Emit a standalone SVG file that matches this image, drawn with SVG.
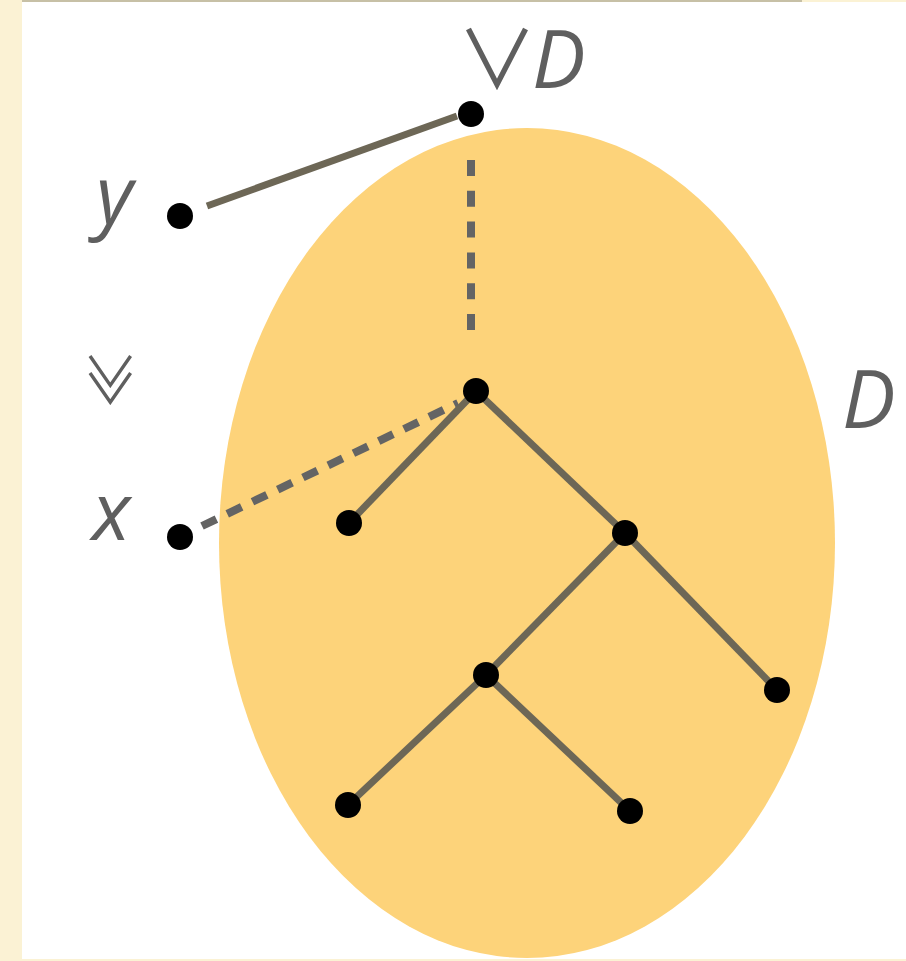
<svg xmlns="http://www.w3.org/2000/svg" width="906" height="961" viewBox="0 0 906 961">
  <style>
    .edge { stroke: #6d6756; stroke-width: 7; stroke-linecap: butt; fill: none; }
    .dash { stroke: #646464; stroke-width: 8; fill: none; }
    .dot { fill: #000; }
    .lbl { font-family: "Open Sans", "DejaVu Sans", sans-serif; fill: #5f5f5f; }
    .it { font-style: italic; }
    .sym { font-family: "Noto Sans CJK JP", "DejaVu Sans", sans-serif; font-weight: 400; fill: #5f5f5f; }
  </style>

  <!-- page background with beige margin -->
  <rect x="0" y="0" width="906" height="961" fill="#ffffff"/>
  <rect x="0" y="0" width="22" height="961" fill="#fbf2d4"/>
  <rect x="22" y="0" width="780" height="2" fill="#c7c0a6"/>
  <rect x="802" y="0" width="104" height="2" fill="#fbf2d4"/>
  <rect x="22" y="959" width="884" height="2" fill="#fbf2d4"/>

  <!-- the set D -->
  <ellipse cx="527" cy="543" rx="308" ry="415" fill="#fdd37a"/>

  <!-- connectors -->
  <g id="connectors">
    <line class="edge" x1="207" y1="206" x2="457" y2="116"/>
    <line class="dash" x1="471" y1="160" x2="471" y2="330" stroke-dasharray="16 14.8"/>
    <line class="dash" x1="202" y1="526" x2="458" y2="403" stroke-dasharray="16 12"/>
    <line class="edge" x1="476" y1="391" x2="349" y2="523"/>
    <line class="edge" x1="476" y1="391" x2="625" y2="533"/>
    <line class="edge" x1="625" y1="533" x2="486" y2="675"/>
    <line class="edge" x1="625" y1="533" x2="777" y2="690"/>
    <line class="edge" x1="486" y1="675" x2="348" y2="805"/>
    <line class="edge" x1="486" y1="675" x2="630" y2="811"/>
  </g>

  <!-- nodes -->
  <g id="node-join"><circle class="dot" cx="471" cy="114" r="13"/></g>
  <g id="node-y"><circle class="dot" cx="180" cy="216" r="13"/></g>
  <g id="node-x"><circle class="dot" cx="180" cy="537" r="13"/></g>
  <g id="node-root"><circle class="dot" cx="476" cy="391" r="13"/></g>
  <g id="node-a"><circle class="dot" cx="349" cy="523" r="13"/></g>
  <g id="node-b"><circle class="dot" cx="625" cy="533" r="13"/></g>
  <g id="node-c"><circle class="dot" cx="486" cy="675" r="13"/></g>
  <g id="node-d"><circle class="dot" cx="777" cy="690" r="13"/></g>
  <g id="node-e"><circle class="dot" cx="348" cy="805" r="13"/></g>
  <g id="node-f"><circle class="dot" cx="630" cy="811" r="13"/></g>

  <!-- labels -->
  <text class="sym" x="497" y="88" font-size="80" text-anchor="middle">∨</text>
  <text class="lbl it" x="532" y="88" font-size="80">D</text>
  <text class="lbl it" x="842" y="428" font-size="80">D</text>
  <text class="lbl it" x="96" y="224" font-size="80">y</text>
  <text class="lbl it" x="92" y="540" font-size="80">x</text>
  <text class="sym" font-size="56" text-anchor="middle" transform="translate(111 380) rotate(-90)" dy="0.35em">≪</text>
</svg>
